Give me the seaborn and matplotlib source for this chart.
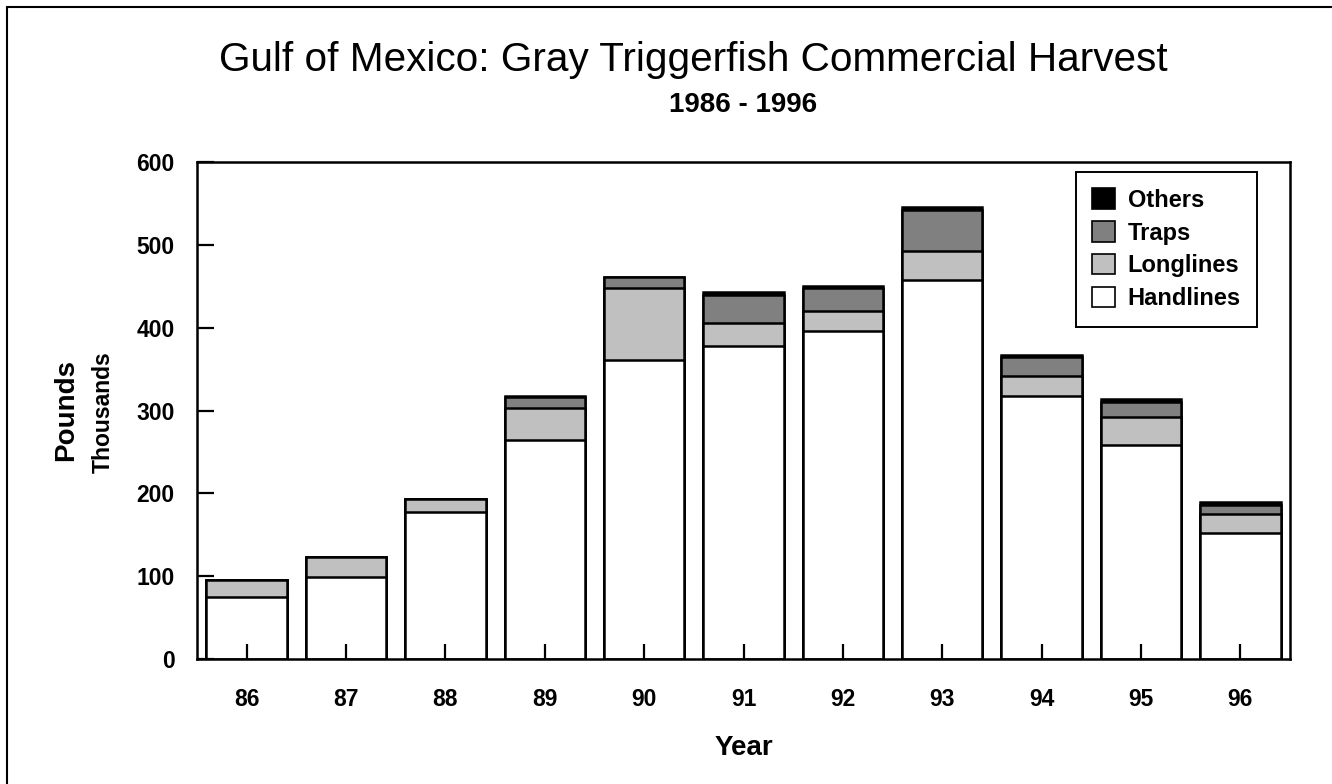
import numpy as np
import pandas as pd
import seaborn as sns
import matplotlib
matplotlib.use("Agg")
import matplotlib.pyplot as plt
from matplotlib.patches import Patch, Rectangle

# values in thousands of pounds
years = ["86", "87", "88", "89", "90", "91", "92", "93", "94", "95", "96"]
handlines = [75, 99, 178, 264, 361, 378, 396, 458, 318, 258, 152]
longlines = [20, 24, 15, 39, 87, 28, 24, 34, 24, 34, 23]
traps = [0, 0, 0, 13, 13, 34, 28, 50, 23, 18, 11]
others = [0, 0, 0, 1, 0, 3, 2, 4, 2, 4, 4]

gears = ["Others", "Traps", "Longlines", "Handlines"]
colors = {"Others": "#000000", "Traps": "#808080", "Longlines": "#c0c0c0", "Handlines": "#ffffff"}

sns.set_style("white")
plt.rcParams["font.family"] = ["Liberation Sans", "DejaVu Sans"]
plt.rcParams["text.color"] = "black"
plt.rcParams["xtick.color"] = "black"
plt.rcParams["ytick.color"] = "black"
plt.rcParams["axes.labelcolor"] = "black"

df = pd.DataFrame({"year": years, "Handlines": handlines, "Longlines": longlines,
                   "Traps": traps, "Others": others})
# cumulative tops, drawn from the tallest layer down so the segments stack
df["cum_Handlines"] = df["Handlines"]
df["cum_Longlines"] = df["cum_Handlines"] + df["Longlines"]
df["cum_Traps"] = df["cum_Longlines"] + df["Traps"]
df["cum_Others"] = df["cum_Traps"] + df["Others"]

fig = plt.figure(figsize=(13.32, 7.84), dpi=100)
ax = fig.add_axes([197 / 1332, 125 / 784, 1093 / 1332, 497 / 784])

for g in gears:
    sns.barplot(data=df, x="year", y="cum_" + g, order=years, color=colors[g],
                edgecolor="black", linewidth=1.8, width=0.81, saturation=1, ax=ax)

ax.set_axisbelow(False)  # tick marks sit on top of the bars
ax.set_xlim(-0.5, len(years) - 0.5)
ax.set_ylim(0, 600)
ax.set_yticks(np.arange(0, 601, 100))
ax.set_xlabel("Year", fontsize=20, fontweight="bold", labelpad=17)
ax.set_ylabel("")
ax.tick_params(axis="x", bottom=True, direction="in", length=11, width=1.6, pad=21, labelsize=16.5)
ax.tick_params(axis="y", left=True, direction="in", length=12.5, width=1.6, pad=16, labelsize=16.5)
for lab in ax.get_xticklabels() + ax.get_yticklabels():
    lab.set_fontweight("bold")
for s in ax.spines.values():
    s.set_visible(True)
    s.set_color("black")
    s.set_linewidth(1.8)

handles = [Patch(facecolor=colors[g], edgecolor="black", linewidth=1.2, label=g) for g in gears]
leg = ax.legend(handles=handles, loc="upper right", bbox_to_anchor=(0.970, 0.980),
                borderaxespad=0, frameon=True, fancybox=False, edgecolor="black", framealpha=1,
                handlelength=0.95, handleheight=0.95, handletextpad=0.55,
                labelspacing=0.4, borderpad=0.7, prop={"size": 17, "weight": "bold"})
leg.get_frame().set_linewidth(1.4)

fig.text(693 / 1332, 1 - 60 / 784, "Gulf of Mexico: Gray Triggerfish Commercial Harvest",
         ha="center", va="center", fontsize=29.2)
fig.text(743 / 1332, 1 - 105 / 784, "1986 - 1996", ha="center", va="center",
         fontsize=20, fontweight="bold")
fig.text(66 / 1332, 1 - 410 / 784, "Pounds", rotation=90, ha="center", va="center",
         fontsize=20, fontweight="bold")
fig.text(103 / 1332, 1 - 412 / 784, "Thousands", rotation=90, ha="center", va="center",
         fontsize=16.5, fontweight="bold")

# outer frame of the figure (left and top edges visible)
fig.patches.append(Rectangle((7 / 1332, -0.1), 2, 1.1 - 7 / 784, transform=fig.transFigure,
                             fill=False, edgecolor="black", linewidth=1.5))

fig.savefig("out.png", dpi=100)
